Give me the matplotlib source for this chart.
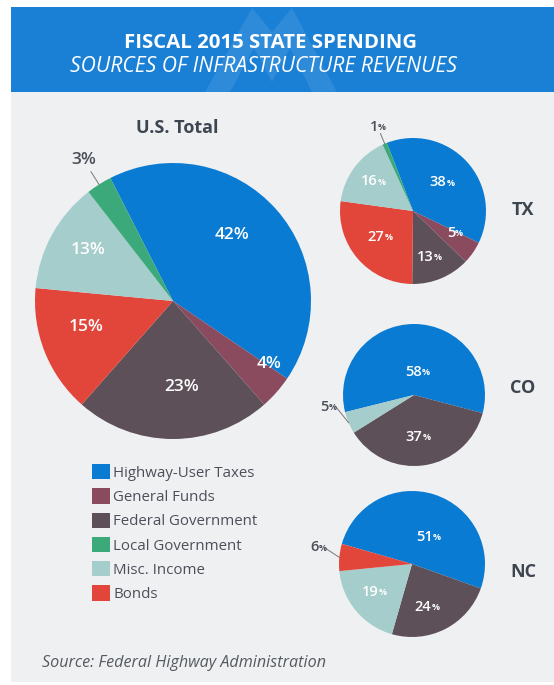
import matplotlib
matplotlib.use("Agg")
import matplotlib.pyplot as plt
from matplotlib.patches import Rectangle, Polygon, Patch
import numpy as np

plt.rcParams['font.family'] = ['Open Sans', 'DejaVu Sans']

# ---------------- data ----------------
categories = ["Highway-User Taxes", "General Funds", "Federal Government",
              "Local Government", "Misc. Income", "Bonds"]
us_total = [42, 4, 23, 3, 13, 15]
tx_vals = [38, 5, 13, 1, 16, 27]
co_vals = [58, 0, 37, 0, 5, 0]
nc_vals = [51, 0, 24, 0, 19, 6]
states = ["TX", "CO", "NC"]

colors = ["#0a7bd3", "#8a4b5f", "#5d5059", "#3ca97b", "#a5cdcc", "#e2463b"]

title = "FISCAL 2015 STATE SPENDING"
subtitle = "SOURCES OF INFRASTRUCTURE REVENUES"
source = "Source: Federal Highway Administration"

# clockwise drawing order of categories inside each pie
order_main = [0, 1, 2, 5, 4, 3]
order_nc = [0, 2, 4, 5, 1, 3]

W, H = 554, 685
def Y(y):  # image (top-down) pixel -> axes y
    return H - y

fig = plt.figure(figsize=(W / 100, H / 100), dpi=100, facecolor="white")
ax = fig.add_axes([0, 0, 1, 1])

# panel and header
ax.add_patch(Rectangle((11, Y(682)), W - 11, 682 - 92, facecolor="#eff0f2",
                       edgecolor="none", zorder=0))
ax.add_patch(Rectangle((11, Y(92)), W - 11, 92 - 7, facecolor="#1a80d6",
                       edgecolor="none", zorder=1))
m_shape = [(205, 92), (252, 8), (272, 32), (292, 8), (337, 92), (312, 92),
           (290, 48), (272, 82), (254, 48), (230, 92)]
ax.add_patch(Polygon([(x, Y(y)) for x, y in m_shape], closed=True,
                     facecolor="white", alpha=0.09, edgecolor="none", zorder=2))
ax.text(270, Y(43), title, color="white", fontsize=14.7, fontweight="bold",
        ha="center", va="center", zorder=3)
ax.text(263, Y(66), subtitle, color="white", fontsize=15.2, fontstyle="italic",
        ha="center", va="center", zorder=3)


def draw_pie(vals, order, cx, cy, r, start, specs, big):
    vv = [vals[i] for i in order]
    cc = [colors[i] for i in order]
    wedges, _ = ax.pie(vv, colors=cc, startangle=start, counterclock=False,
                       center=(cx, Y(cy)), radius=r, frame=True,
                       wedgeprops=dict(linewidth=0, antialiased=True))
    for w, idx in zip(wedges, order):
        if vals[idx] == 0:
            continue
        frac, dth, outside = specs[idx]
        th = np.deg2rad((w.theta1 + w.theta2) / 2 + dth)
        x = cx + r * frac * np.cos(th)
        y = Y(cy) + r * frac * np.sin(th)
        col = "#4a4f58" if outside else "white"
        if outside:
            th0 = np.deg2rad((w.theta1 + w.theta2) / 2)
            ax.plot([cx + r * 1.0 * np.cos(th0), cx + r * (frac - 0.1) * np.cos(th)],
                    [Y(cy) + r * 1.0 * np.sin(th0), Y(cy) + r * (frac - 0.1) * np.sin(th)],
                    color="#777", lw=0.7, zorder=5)
        if big:
            ax.text(x, y, f"{vals[idx]}%", color=col, fontsize=12.5,
                    fontweight="semibold", ha="center", va="center", zorder=6)
        else:
            t = ax.text(x - 4, y, f"{vals[idx]}", color=col, fontsize=10.5,
                        fontweight="semibold", ha="center", va="center", zorder=6)
            ax.annotate("%", xy=(1.0, 0.12), xycoords=t, color=col, fontsize=6.5,
                        fontweight="bold", ha="left", va="bottom", zorder=6)


# U.S. total pie
us_specs = {0: (0.64, 7, False), 1: (0.83, 8, False), 2: (0.63, 6, False),
            3: (1.21, 0, True), 4: (0.72, -2, False), 5: (0.66, -5, False)}
draw_pie(us_total, order_main, 173, 301, 138, 117, us_specs, True)
ax.text(177, Y(128), "U.S. Total", color="#3d4650", fontsize=13,
        fontweight="bold", ha="center", va="center")

tx_specs = {0: (0.56, 2, False), 1: (0.65, 7, False), 2: (0.67, -3, False),
            3: (1.25, 0, True), 4: (0.68, 0, False), 5: (0.57, -3, False)}
co_specs = {0: (0.33, -9, False), 2: (0.59, -3, False), 4: (1.22, -15, True)}
nc_specs = {0: (0.43, -13, False), 2: (0.62, -8, False), 4: (0.64, -3, False),
            5: (1.3, -5, True)}

draw_pie(tx_vals, order_main, 413, 211, 73, 111, tx_specs, False)
draw_pie(co_vals, order_main, 414, 395, 71, 194, co_specs, False)
draw_pie(nc_vals, order_nc, 412, 564, 73, 164, nc_specs, False)

for name, yy in zip(states, [210, 388, 572]):
    ax.text(523, Y(yy), name, color="#3d4650", fontsize=13, fontweight="bold",
            ha="center", va="center")

# legend
handles = [Patch(facecolor=c, edgecolor="none") for c in colors]
leg = ax.legend(handles, categories, loc="upper left",
                bbox_to_anchor=(92, Y(464)), bbox_transform=ax.transData,
                frameon=False, fontsize=10.8, handlelength=1.2, handleheight=1.2,
                handletextpad=0.22, labelspacing=0.5, borderpad=0,
                borderaxespad=0)
for t in leg.get_texts():
    t.set_color("#4b4f58")

ax.text(42, Y(663), source, color="#555a60", fontsize=11.6, fontstyle="italic",
        ha="left", va="center")

ax.set_xlim(0, W)
ax.set_ylim(0, H)
ax.set_aspect("equal")
ax.axis("off")

fig.savefig("out.png", dpi=100, facecolor="white")
